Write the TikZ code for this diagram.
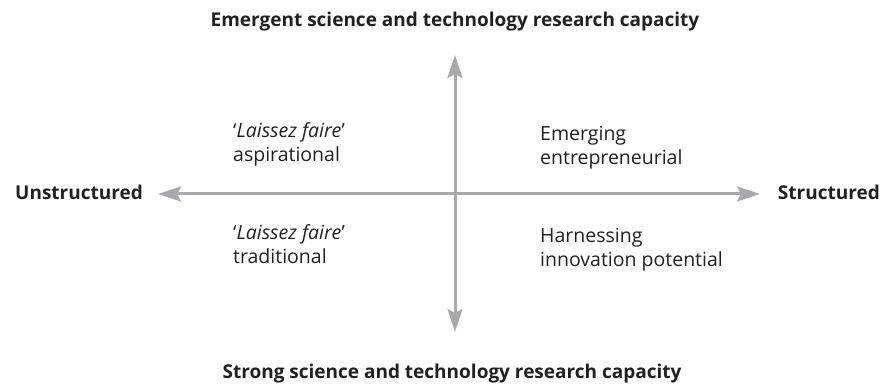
\documentclass[tikz,border=0pt]{standalone}
\usepackage{fontspec}
\setmainfont{Open Sans}
\usetikzlibrary{arrows.meta}
\definecolor{axisgray}{HTML}{A8A8AD}
\definecolor{textdark}{HTML}{231F20}
\begin{document}
\begin{tikzpicture}[x=1pt,y=-1pt,
  axis/.style={draw=axisgray,line width=3pt,-{Stealth[length=23pt,width=15pt,inset=4pt]}},
  title/.style={font=\fontsize{19}{22}\selectfont\bfseries,text=textdark,inner sep=0pt},
  quad/.style={font=\fontsize{19.5}{24.5}\selectfont,text=textdark,inner sep=0pt,align=left,anchor=base west}]
\useasboundingbox (0,0) rectangle (883,387);
\coordinate (c) at (455,194);
\coordinate (top) at (455,55);
\coordinate (bot) at (455,332);
\coordinate (lft) at (158,194);
\coordinate (rgt) at (760,194);
\draw[axis] (c) -- (top);
\draw[axis] (c) -- (bot);
\draw[axis] (c) -- (lft);
\draw[axis] (c) -- (rgt);
\node[title,anchor=base] (tt) at (455,27) {Emergent science and technology research capacity};
\node[title,anchor=base] (bt) at (452,378) {Strong science and technology research capacity};
\node[title,anchor=base west] (lt) at (15,200) {Unstructured};
\node[title,anchor=base east] (rt) at (880,200) {Structured};
\node[quad] (q1) at (233,162) {‘\textit{Laissez faire}’\\aspirational};
\node[quad] (q3) at (233,264) {‘\textit{Laissez faire}’\\traditional};
\node[quad] (q2) at (540,165) {Emerging\\entrepreneurial};
\node[quad] (q4) at (540,267) {Harnessing\\innovation potential};
\end{tikzpicture}
\end{document}
